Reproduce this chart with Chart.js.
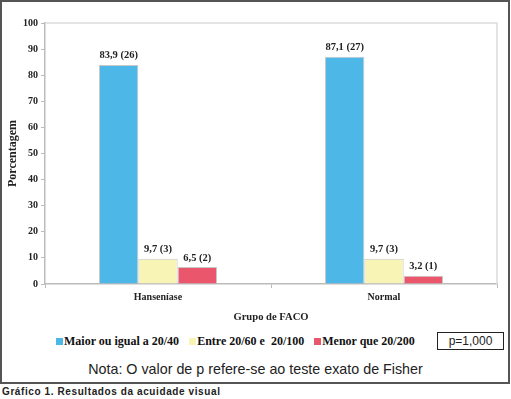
<!DOCTYPE html>
<html lang="pt">
<head>
<meta charset="UTF-8">
<title>Resultados da acuidade visual</title>
<script src="https://cdn.jsdelivr.net/npm/chart.js"></script>
<style>
    body { margin: 0; width: 511px; height: 399px; background: #fff; position: relative; overflow: hidden; }
    #frame {
        position: absolute; left: 0; top: 0; width: 506px; height: 380px;
        border: 2px solid #555; background: #fff;
    }
    #wrap { position: absolute; left: 0; top: 0; width: 511px; height: 330px; }
    .legend {
        position: absolute; top: 334px; left: 56px; white-space: nowrap;
        font: bold 12px 'Liberation Serif', serif; color: #111;
    }
    .legend span.item { margin-right: 10px; }
    .legend i { display: inline-block; width: 7px; height: 7px; margin-right: 1px; vertical-align: 0px; }
    #pbox {
        position: absolute; left: 437px; top: 332px; width: 65px; height: 16px;
        border: 1px solid #222; font: 12px 'Liberation Sans', sans-serif; text-align: center; line-height: 16px; color: #222;
    }
    #nota {
        position: absolute; top: 361px; left: 0; width: 511px; text-align: center;
        font: 14.3px 'Liberation Sans', sans-serif; color: #222;
    }
    #caption {
        position: absolute; top: 386px; left: 2px;
        font: bold 10px 'Liberation Sans', sans-serif; letter-spacing: 0.6px; color: #222;
    }
</style>
</head>
<body>
<div id="frame"></div>
<div id="wrap"><canvas id="chart"></canvas></div>
<div class="legend" id="legend"></div>
<div id="pbox">p=1,000</div>
<div id="nota">Nota: O valor de p refere-se ao teste exato de Fisher</div>
<div id="caption">Gráfico 1. Resultados da acuidade visual</div>

<script>
// dados
const groups = ['Hanseníase', 'Normal'];
const seriesNames = ['Maior ou igual a 20/40', 'Entre 20/60 e  20/100', 'Menor que 20/200'];
const maiorPct = [83.9, 87.1];
const entrePct = [9.7, 9.7];
const menorPct = [6.5, 3.2];
const maiorN = [26, 27];
const entreN = [3, 3];
const menorN = [2, 1];
const yTicks = [0, 10, 20, 30, 40, 50, 60, 70, 80, 90, 100];

const colors = ['#4db8e8', '#f8f4b6', '#ea566b'];
const serif = "'Liberation Serif', 'Times New Roman', serif";

// legenda em html
const legendEl = document.getElementById('legend');
seriesNames.forEach((name, i) => {
    const s = document.createElement('span');
    s.className = 'item';
    s.innerHTML = '<i style="background:' + colors[i] + '"></i>' + name.replace(/  /g, ' &nbsp;');
    legendEl.appendChild(s);
});

// rótulos acima das barras
const valueLabels = {
    id: 'valueLabels',
    afterDatasetsDraw(chart) {
        const ctx = chart.ctx;
        ctx.save();
        ctx.font = 'bold 10.5px ' + serif;
        ctx.fillStyle = '#222';
        ctx.textAlign = 'center';
        ctx.textBaseline = 'bottom';
        chart.data.datasets.forEach((ds, di) => {
            chart.getDatasetMeta(di).data.forEach((bar, i) => {
                const txt = ds.data[i].toFixed(1).replace('.', ',') + ' (' + ds.counts[i] + ')';
                ctx.fillText(txt, bar.x, bar.y - 4);
            });
        });
        ctx.restore();
    }
};

// moldura da área do gráfico
const plotFrame = {
    id: 'plotFrame',
    beforeDatasetsDraw(chart) {
        const a = chart.chartArea, ctx = chart.ctx;
        ctx.save();
        ctx.strokeStyle = '#dcdcdc';
        ctx.lineWidth = 1.5;
        ctx.beginPath();
        ctx.moveTo(a.left, a.top);
        ctx.lineTo(a.right, a.top);
        ctx.lineTo(a.right, a.bottom);
        ctx.stroke();
        ctx.restore();
    }
};

const datasets = [
    { label: seriesNames[0], data: maiorPct, counts: maiorN },
    { label: seriesNames[1], data: entrePct, counts: entreN },
    { label: seriesNames[2], data: menorPct, counts: menorN }
].map((d, i) => Object.assign(d, {
    backgroundColor: colors[i],
    borderColor: '#c8c8c8',
    borderWidth: 1,
    barPercentage: 1.0,
    categoryPercentage: 0.522
}));

new Chart(document.getElementById('chart'), {
    type: 'bar',
    data: { labels: groups, datasets: datasets },
    options: {
        responsive: true,
        maintainAspectRatio: false,
        animation: false,
        layout: { padding: { top: 23, right: 14, bottom: 0, left: 0 } },
        plugins: { legend: { display: false }, tooltip: { enabled: false } },
        scales: {
            x: {
                grid: { drawOnChartArea: false, tickLength: 4, color: '#bbb', offset: true },
                border: { color: '#bbb', width: 1.5 },
                ticks: { color: '#222', font: { family: serif, size: 10, weight: 'bold' }, padding: 3 },
                title: { display: true, text: 'Grupo de FACO', color: '#222', font: { family: serif, size: 10.6, weight: 'bold' }, padding: { top: 4, bottom: 6 } },
                afterFit(scale) { scale.height = 46; }
            },
            y: {
                min: 0, max: 100,
                afterBuildTicks(scale) { scale.ticks = yTicks.map(v => ({ value: v })); },
                grid: { drawOnChartArea: false, tickLength: 4, color: '#bbb' },
                border: { color: '#bbb', width: 1.5 },
                ticks: { color: '#222', font: { family: serif, size: 10, weight: 'bold' }, padding: 3 },
                title: { display: true, text: 'Porcentagem', color: '#222', font: { family: serif, size: 12, weight: 'bold' }, padding: { top: 6, bottom: 2 } },
                afterFit(scale) { scale.width = 45; }
            }
        }
    },
    plugins: [plotFrame, valueLabels]
});
</script>
</body>
</html>
